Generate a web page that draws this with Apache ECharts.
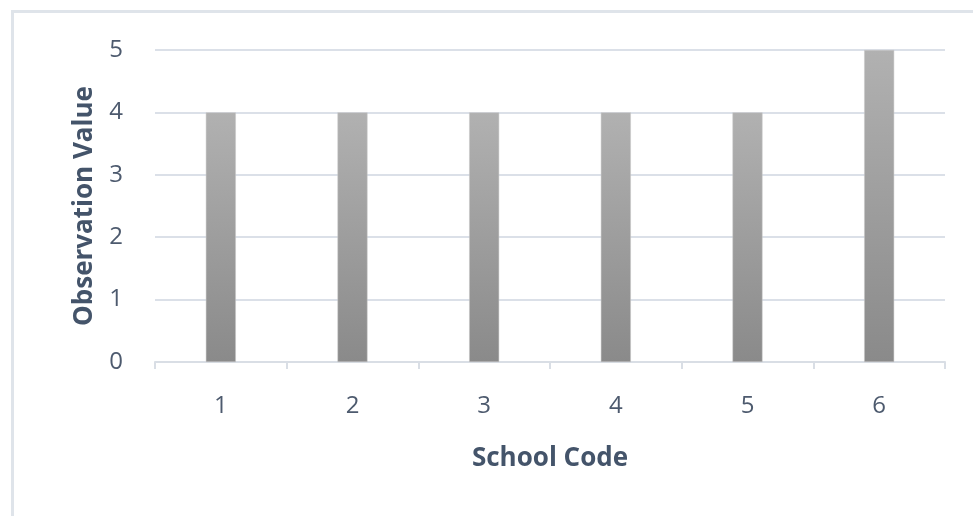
<!DOCTYPE html>
<html><head><meta charset="utf-8">
<script src="https://cdn.jsdelivr.net/npm/echarts@6/dist/echarts.min.js"></script>
<style>html,body{margin:0;padding:0;background:#fff}#c{width:973px;height:516px}</style>
</head><body><div id="c"></div>
<script>
const categories = ['1','2','3','4','5','6'];
const values = [4,4,4,4,4,5];
const yTicks = [0,1,2,3,4,5];
const chart = echarts.init(document.getElementById('c'));
const labelColor = '#4d5a6e';
const titleColor = '#44546a';
chart.setOption({
  animation:false,
  graphic:[{type:'rect',shape:{x:12.5,y:11.5,width:980,height:520},style:{fill:'none',stroke:'#dfe4ea',lineWidth:3},silent:true}],
  grid:{left:155,right:28,top:50,bottom:154},
  xAxis:{type:'category',data:categories,
    name:'School Code',nameLocation:'middle',nameGap:84,
    nameTextStyle:{fontFamily:'Open Sans',fontSize:26,fontWeight:'bold',color:titleColor},
    axisLine:{lineStyle:{color:'#d9dee5',width:2}},
    axisTick:{show:true,length:7,lineStyle:{color:'#d9dee5',width:2}},
    axisLabel:{fontFamily:'Open Sans',fontSize:24,color:labelColor,margin:32}},
  yAxis:{type:'value',min:yTicks[0],max:yTicks[yTicks.length-1],interval:1,
    name:'Observation Value',nameLocation:'middle',nameGap:57,
    nameTextStyle:{fontFamily:'Open Sans',fontSize:26,fontWeight:'bold',color:titleColor},
    axisLine:{show:false},axisTick:{show:false},
    splitLine:{lineStyle:{color:'#dbe0e8',width:2}},
    axisLabel:{fontFamily:'Open Sans',fontSize:24,color:labelColor,margin:32}},
  series:[{type:'bar',data:values,barWidth:30,
    itemStyle:{borderColor:'#c8c8c8',borderWidth:0.5,
      color:{type:'linear',x:0,y:0,x2:0,y2:1,colorStops:[{offset:0,color:'#b1b1b1'},{offset:1,color:'#8a8a8a'}]}}}]
});
</script></body></html>
